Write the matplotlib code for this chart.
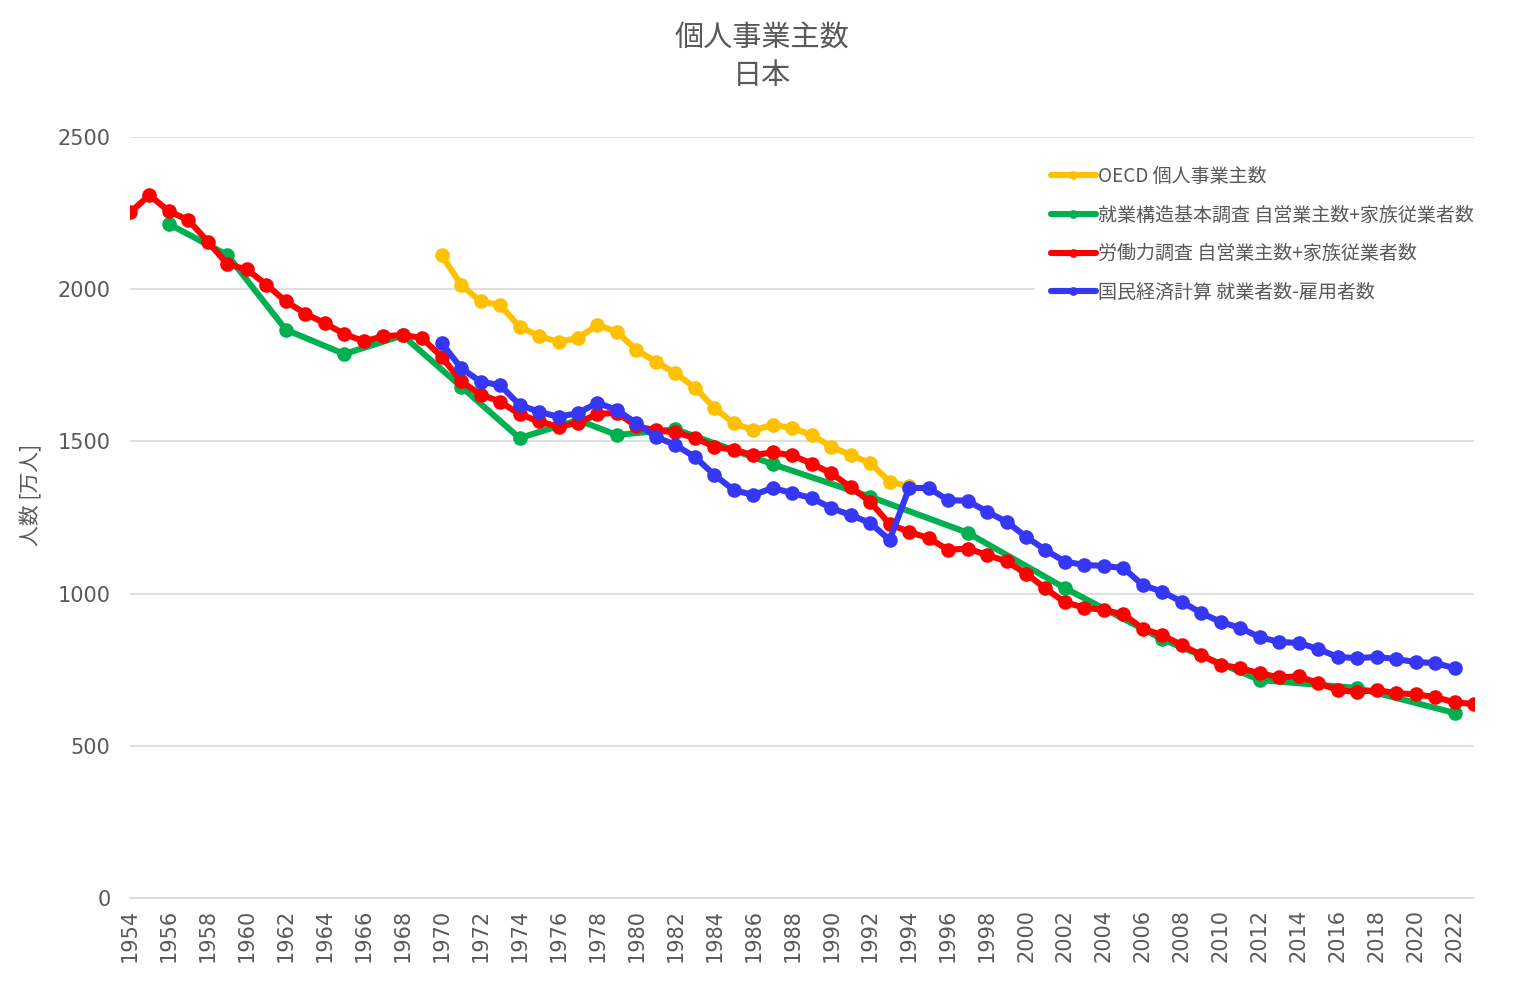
import matplotlib
matplotlib.use('Agg')
import matplotlib.pyplot as plt

plt.rcParams['font.family'] = ['Noto Sans CJK JP', 'DejaVu Sans']

# OECD 個人事業主数 (1970-1994)
oecd_years = list(range(1970, 1995))
oecd_vals = [2112, 2014, 1960, 1948, 1877, 1846, 1827, 1840, 1882, 1860,
             1800, 1762, 1724, 1677, 1610, 1560, 1537, 1554, 1544, 1521,
             1483, 1455, 1429, 1368, 1352]

# 就業構造基本調査 自営業主数+家族従業者数
kozo_years = [1956, 1959, 1962, 1965, 1968, 1971, 1974, 1977, 1979, 1982,
              1987, 1992, 1997, 2002, 2007, 2012, 2017, 2022]
kozo_vals = [2214, 2112, 1867, 1787, 1848, 1680, 1511, 1570, 1521, 1540,
             1425, 1318, 1200, 1018, 850, 716, 690, 608]

# 労働力調査 自営業主数+家族従業者数 (1954-2023)
lfs_years = list(range(1954, 2024))
lfs_vals = [2252, 2309, 2256, 2227, 2156, 2082, 2065, 2015, 1960, 1920,
            1888, 1853, 1829, 1845, 1850, 1839, 1778, 1697, 1654, 1631,
            1589, 1566, 1548, 1561, 1590, 1594, 1550, 1536, 1530, 1511,
            1483, 1472, 1455, 1464, 1454, 1427, 1395, 1350, 1302, 1228,
            1203, 1182, 1144, 1148, 1127, 1106, 1066, 1017, 971, 954,
            946, 932, 885, 863, 831, 798, 766, 755, 738, 725,
            728, 706, 683, 677, 683, 673, 669, 660, 643, 637]

# 国民経済計算 就業者数-雇用者数 (1970-2022)
sna_years = list(range(1970, 2023))
sna_vals = [1823, 1741, 1696, 1685, 1620, 1597, 1581, 1593, 1627, 1603,
            1560, 1515, 1488, 1449, 1390, 1340, 1324, 1347, 1330, 1314,
            1281, 1258, 1232, 1176, 1347, 1347, 1307, 1305, 1269, 1236,
            1187, 1143, 1105, 1094, 1091, 1084, 1028, 1006, 973, 936,
            907, 887, 857, 841, 838, 818, 792, 788, 792, 785,
            775, 772, 755]

series = [
    (oecd_years, oecd_vals, '#FFC000', 'OECD 個人事業主数'),
    (kozo_years, kozo_vals, '#00B050', '就業構造基本調査 自営業主数+家族従業者数'),
    (lfs_years, lfs_vals, '#FF0000', '労働力調査 自営業主数+家族従業者数'),
    (sna_years, sna_vals, '#3636F5', '国民経済計算 就業者数-雇用者数'),
]

text_color = '#595959'

fig = plt.figure(figsize=(15.24, 9.96), dpi=100)
ax = fig.add_axes([130 / 1524, 1 - 898 / 996, (1474 - 130) / 1524, (898 - 137) / 996])

for xs, ys, color, label in series:
    ax.plot(xs, ys, color=color, linewidth=4.4, marker='o', markersize=10.5,
            markeredgewidth=0, label=label, solid_capstyle='round')

ax.set_xlim(1954, 2023)
ax.set_ylim(0, 2500)
ax.set_xticks(range(1954, 2023, 2))
ax.set_xticklabels([str(y) for y in range(1954, 2023, 2)], rotation=90)
ax.set_yticks(range(0, 2501, 500))
ax.grid(axis='y', color='#D9D9D9', linewidth=1.2)
ax.set_axisbelow(True)
for side in ['top', 'right', 'left']:
    ax.spines[side].set_visible(False)
ax.spines['bottom'].set_color('#D9D9D9')
ax.spines['bottom'].set_linewidth(1.2)
ax.tick_params(axis='both', length=0, colors=text_color, labelsize=15,
               labelfontfamily='DejaVu Sans')
ax.tick_params(axis='y', pad=14)
ax.tick_params(axis='x', pad=8)

ax.set_ylabel('人数 [万人]', fontsize=15, color=text_color)
ax.yaxis.set_label_coords((42 - 130) / 1344, (898 - 495) / 761)

fig.suptitle('個人事業主数\n日本', fontsize=21, color=text_color, y=0.976,
             linespacing=1.3)

leg = ax.legend(loc='upper left', bbox_to_anchor=(0.6666, 0.9945), frameon=True,
                fontsize=13.7, handlelength=2.4, handletextpad=0.1,
                labelspacing=0.93, borderpad=0.8, markerscale=0.6)
leg.get_frame().set_facecolor('white')
leg.get_frame().set_edgecolor('white')
leg.get_frame().set_alpha(1)
for t in leg.get_texts():
    t.set_color(text_color)

fig.savefig('out.png', dpi=100)
